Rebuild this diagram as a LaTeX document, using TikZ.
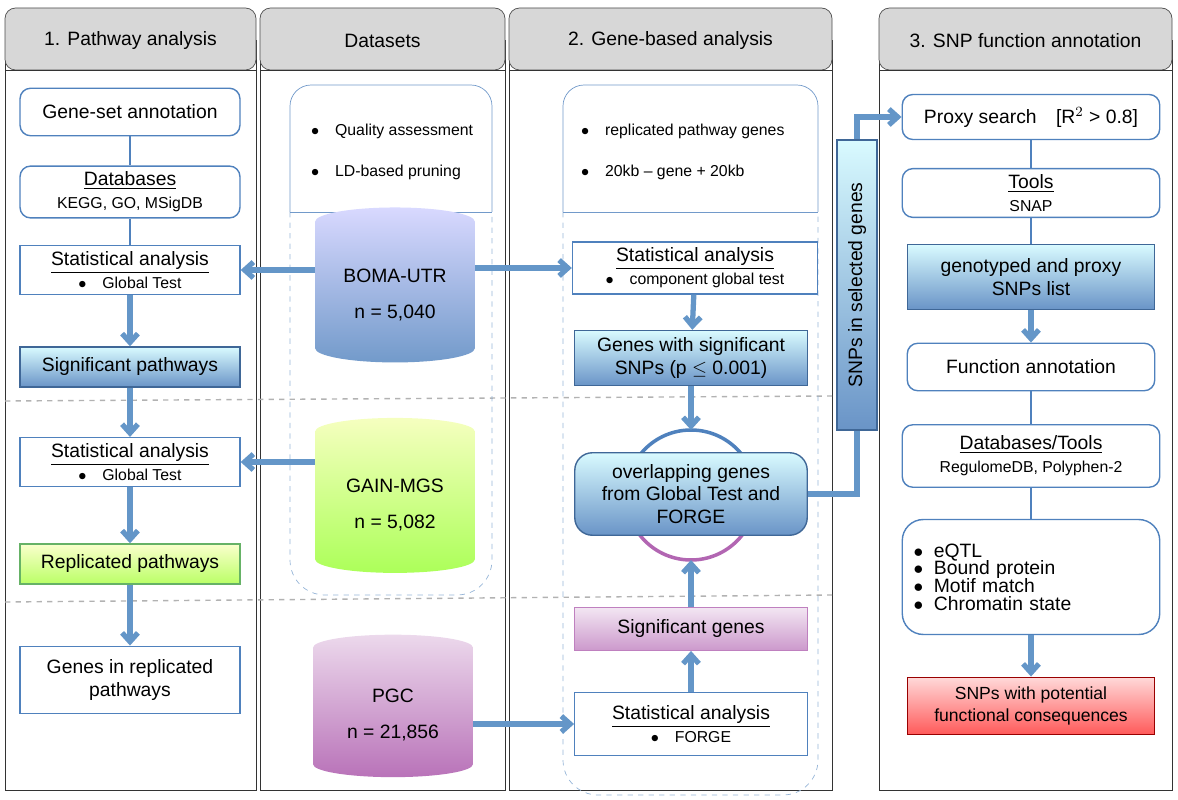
\documentclass[tikz,border=0pt]{standalone}
\usepackage{fontspec}
\setmainfont{Liberation Sans}
\usetikzlibrary{shapes.geometric, arrows.meta, positioning, calc}
\definecolor{edgeblue}{RGB}{79, 129, 189}
\definecolor{arrowblue}{RGB}{100, 150, 200}
\definecolor{headgray}{RGB}{215, 215, 215}

\begin{document}
\begin{tikzpicture}[x=0.02cm, y=-0.02cm,
        box/.style={rectangle, draw=edgeblue, thick, fill=white, minimum width=4.4cm, minimum height=0.95cm, align=center, font=\fontsize{11}{13}\selectfont},
        rbox/.style={box, rounded corners=6pt},
        bluebox/.style={box, draw=edgeblue!80!black, top color=blue!12!cyan!15, bottom color=edgeblue!85},
        greenbox/.style={box, draw=green!50!black!60, top color=green!10!yellow!20, bottom color=green!45!yellow!60},
        purplebox/.style={box, draw=violet!50, top color=violet!10, bottom color=violet!40},
        redbox/.style={box, draw=red!60!black, top color=red!15, bottom color=red!65},
        db/.style={cylinder, shape border rotate=90, aspect=0.25, draw=none, minimum width=3.2cm, minimum height=3.1cm, align=center, font=\fontsize{11}{20}\selectfont},
        arrow/.style={-{Straight Barb[length=5pt,width=9pt]}, line width=3pt, arrowblue},
        head/.style={draw=black!70, fill=headgray, rounded corners=6pt, font=\fontsize{11}{13}\selectfont},
        sm/.style={font=\fontsize{9}{11}\selectfont}
    ]
    \useasboundingbox (0,0) rectangle (1178,800);

    % Column frames and headers
    \foreach \xa/\xb/\title in {5/256/{1. Pathway analysis}, 260/505/{Datasets}, 509/832/{2. Gene-based analysis}, 879/1172/{3. SNP function annotation}}{
        \draw[black!80] (\xa,40) rectangle (\xb,790);
        \draw[head] (\xa,70) -- (\xa,8) -- (\xb,8) -- (\xb,70) -- cycle;
        \node[font=\fontsize{11}{13}\selectfont] at ({(\xa+\xb)/2},41) {\title};
        \draw[black!80] (\xa,70) -- (\xb,70);
    }

    % Separators
    \draw[gray!60, dashed, thick] (5,401) -- (832,396);
    \draw[gray!60, dashed, thick] (5,602) -- (832,595);

    % Dataset and gene-based panels
    \draw[edgeblue!60, dashed] (290,212) -- (290,560) arc[start angle=180, end angle=90, radius=35] -- (457,595) arc[start angle=90, end angle=0, radius=35] -- (492,212);
    \draw[edgeblue!80, fill=white, rounded corners=12pt] (290,212) -- (290,85) -- (492,85) -- (492,212);
    \draw[edgeblue!80] (290,212) -- (492,212);
    \node[sm, align=left, anchor=west] at (305,131) {$\bullet$\quad Quality assessment};
    \node[sm, align=left, anchor=west] at (305,172) {$\bullet$\quad LD-based pruning};

    \draw[edgeblue!60, dashed] (563,212) -- (563,760) arc[start angle=180, end angle=90, radius=35] -- (783,795) arc[start angle=90, end angle=0, radius=35] -- (818,212);
    \draw[edgeblue!80, fill=white, rounded corners=12pt] (563,212) -- (563,85) -- (818,85) -- (818,212);
    \draw[edgeblue!80] (563,212) -- (818,212);
    \node[sm, anchor=west] at (575,131) {$\bullet$\quad replicated pathway genes};
    \node[sm, anchor=west] at (575,172) {$\bullet$\quad 20kb -- gene + 20kb};

    % Datasets
    \node[db, top color=blue!15, bottom color=edgeblue!80] (boma) at (395,295) {BOMA-UTR\\n = 5,040};
    \node[db, top color=green!15!yellow!25, bottom color=green!50!yellow!65] (gain) at (395,505) {GAIN-MGS\\n = 5,082};
    \node[db, top color=violet!15, bottom color=violet!55, minimum height=2.85cm] (pgc) at (393,715) {PGC\\n = 21,856};

    % 1. Pathway analysis
    \node[rbox] (annot) at (130,112) {Gene-set annotation};
    \node[rbox, minimum height=0.9cm] (dbs) at (130,192) {\underline{Databases}\\[0pt]{\fontsize{9}{11}\selectfont KEGG, GO, MSigDB}};
    \node[box] (stat1) at (130,270) {\underline{Statistical analysis}\\[0pt]{\fontsize{9}{11}\selectfont $\bullet$\quad Global Test}};
    \node[bluebox, minimum height=0.8cm] (sigpath) at (130,367) {Significant pathways};
    \node[box] (stat2) at (130,462) {\underline{Statistical analysis}\\[0pt]{\fontsize{9}{11}\selectfont $\bullet$\quad Global Test}};
    \node[greenbox, minimum height=0.8cm] (reppath) at (130,564) {Replicated pathways};
    \node[box, minimum height=1.35cm] (genes) at (130,680) {Genes in replicated\\pathways};

    \draw[edgeblue, thick] (annot) -- (dbs) -- (stat1);
    \draw[arrow] (stat1) -- (sigpath);
    \draw[arrow] (sigpath) -- (stat2);
    \draw[arrow] (stat2) -- (reppath);
    \draw[arrow] (reppath) -- (genes);

    % 2. Gene-based analysis
    \node[box, minimum width=4.9cm] (stat3) at (695,268) {\underline{Statistical analysis}\\[0pt]{\fontsize{9}{11}\selectfont $\bullet$\quad component global test}};
    \node[bluebox, minimum width=4.65cm, minimum height=1.1cm] (sigsnp) at (691,358) {Genes with significant\\SNPs (p $\leq$ 0.001)};
    \draw[edgeblue, line width=2pt] (626,495) arc[start angle=180, end angle=360, radius=65];
    \draw[violet!60, line width=2pt] (626,495) arc[start angle=180, end angle=0, radius=65];
    \node[bluebox, rounded corners=10pt, minimum width=4.65cm, minimum height=1.65cm] (overlap) at (691,494) {overlapping genes\\from Global Test and\\FORGE};
    \node[purplebox, minimum width=4.65cm, minimum height=0.85cm] (siggenes) at (691,629) {Significant genes};
    \node[box, minimum width=4.65cm, minimum height=1.25cm] (forge) at (691,724) {\underline{Statistical analysis}\\[0pt]{\fontsize{9}{11}\selectfont $\bullet$\quad FORGE}};

    \draw[arrow] (boma.west |- stat1) -- (stat1.east);
    \draw[arrow] (boma.east |- stat3) -- (stat3.west);
    \draw[arrow] (gain.west |- stat2) -- (stat2.east);
    \draw[arrow] (pgc.east |- forge) -- (forge.west);
    \draw[arrow] (stat3) -- (sigsnp);
    \draw[arrow] (sigsnp) -- (overlap.north |- 0,430);
    \draw[arrow] (siggenes) -- (overlap.south |- 0,560);
    \draw[arrow] (forge) -- (siggenes);

    % SNPs in selected genes
    \node[bluebox, rotate=90, minimum width=5.8cm, minimum height=0.8cm] (selsnp) at (857,285) {SNPs in selected genes};

    % 3. SNP function annotation
    \node[rbox, minimum width=5.15cm, minimum height=0.9cm] (proxy) at (1031,117) {Proxy search\quad[R$^2$ > 0.8]};
    \node[rbox, minimum width=5.15cm] (tools) at (1031,193) {\underline{Tools}\\[0pt]{\fontsize{9}{11}\selectfont SNAP}};
    \node[bluebox, minimum width=4.95cm, minimum height=1.3cm] (snplist) at (1031,277) {genotyped and proxy\\SNPs list};
    \node[rbox, minimum width=4.95cm] (funcann) at (1031,367) {Function annotation};
    \node[rbox, minimum width=5.15cm, minimum height=1.25cm] (dbtools) at (1031,456) {\underline{Databases/Tools}\\[0pt]{\fontsize{9}{11}\selectfont RegulomeDB, Polyphen-2}};
    \node[rbox, rounded corners=12pt, minimum width=5.15cm, minimum height=2.3cm, align=left, text width=4.7cm] (feat) at (1031,577) {$\bullet$\;\;eQTL\\[-3pt]$\bullet$\;\;Bound protein\\[-3pt]$\bullet$\;\;Motif match\\[-3pt]$\bullet$\;\;Chromatin state};
    \node[redbox, minimum width=4.95cm, minimum height=1.15cm, font=\fontsize{10}{12}\selectfont] (result) at (1031,706) {SNPs with potential\\functional consequences};

    \draw[arrowblue, line width=3pt] (overlap.east) -- (selsnp.west |- overlap.east) -- (selsnp.west);
    \draw[arrow] (selsnp.east) |- (proxy.west);
    \draw[edgeblue, thick] (proxy) -- (tools) -- (snplist);
    \draw[arrow] (snplist) -- (funcann);
    \draw[edgeblue, thick] (funcann) -- (dbtools) -- (feat);
    \draw[arrow] (feat) -- (result);
\end{tikzpicture}
\end{document}
